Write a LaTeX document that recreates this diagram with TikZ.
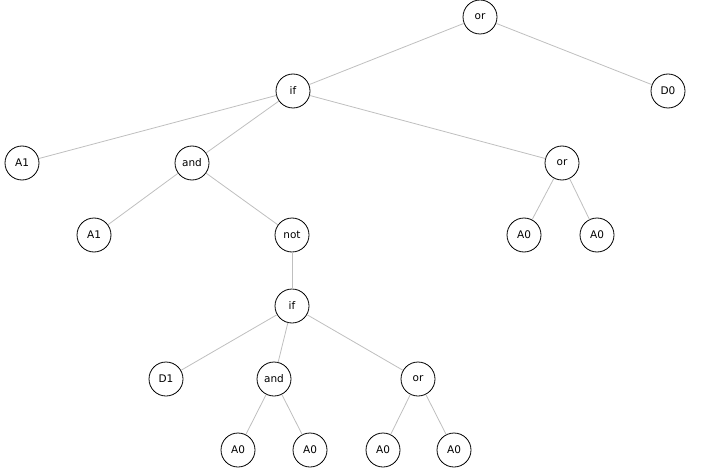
\documentclass[tikz,border=0pt]{standalone}
\usepackage{fontspec}
\setmainfont{DejaVu Sans}
\begin{document}
\begin{tikzpicture}[x=1pt,y=-1pt,
  nd/.style={circle,draw=black,fill=white,line width=0.8pt,minimum size=34pt,inner sep=0pt,font=\fontsize{10.5}{12}\selectfont},
  ed/.style={draw=black!25,line width=0.8pt}]
\useasboundingbox (0,0) rectangle (719,473);
\node[nd] (r) at (480,17) {or};
\node[nd] (if1) at (293,91) {if};
\node[nd] (d0) at (668,91) {D0};
\node[nd] (a1) at (22,163) {A1};
\node[nd] (and1) at (192,163) {and};
\node[nd] (or2) at (562,163) {or};
\node[nd] (a1b) at (94,235) {A1};
\node[nd] (not) at (292,235) {not};
\node[nd] (a0a) at (524,235) {A0};
\node[nd] (a0b) at (597,235) {A0};
\node[nd] (if2) at (292,306) {if};
\node[nd] (d1) at (166,379) {D1};
\node[nd] (and2) at (274,379) {and};
\node[nd] (or3) at (418,379) {or};
\node[nd] (a0c) at (238,450) {A0};
\node[nd] (a0d) at (310,450) {A0};
\node[nd] (a0e) at (383,450) {A0};
\node[nd] (a0f) at (454,450) {A0};
\foreach \a/\b in {r/if1,r/d0,if1/a1,if1/and1,if1/or2,and1/a1b,and1/not,or2/a0a,or2/a0b,not/if2,if2/d1,if2/and2,if2/or3,and2/a0c,and2/a0d,or3/a0e,or3/a0f}
  \path[ed] (\a) -- (\b);
\end{tikzpicture}
\end{document}
